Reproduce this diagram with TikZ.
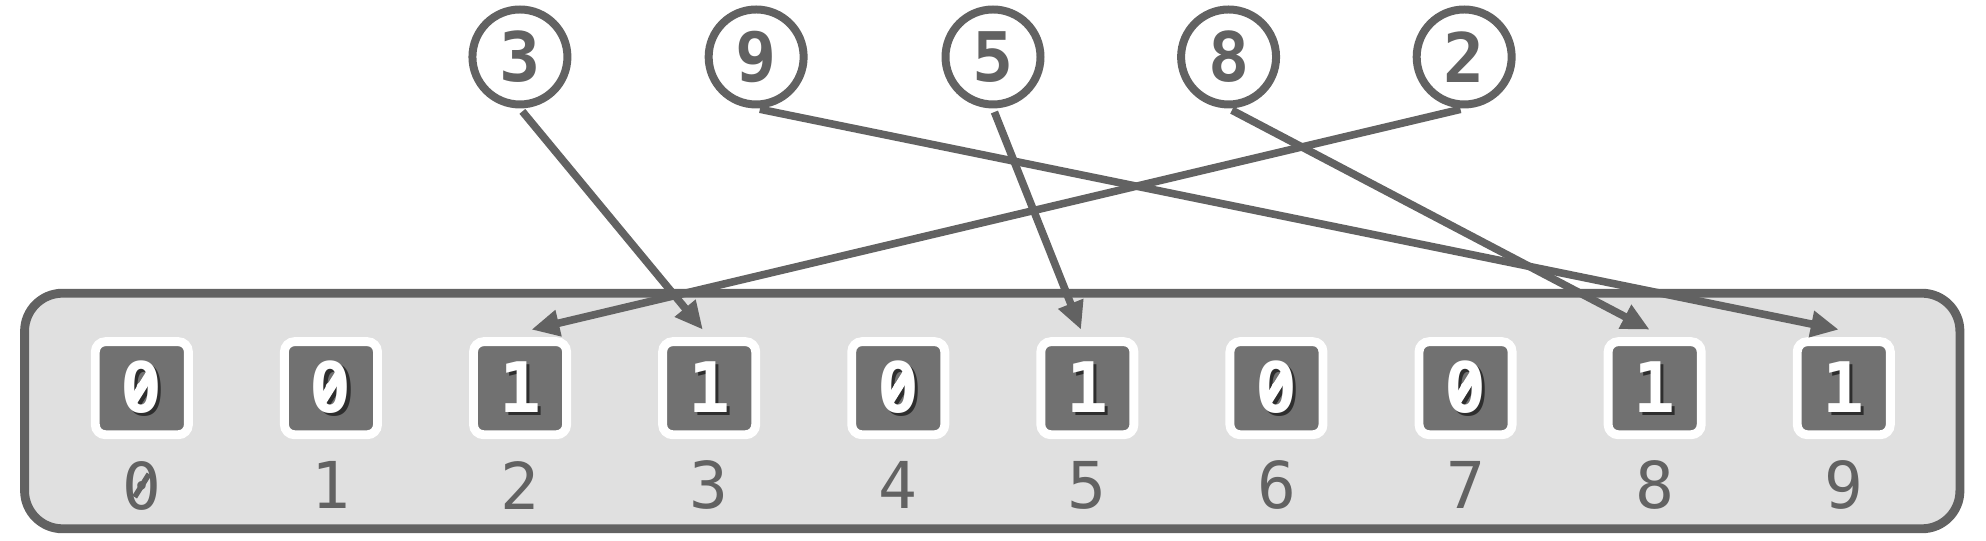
\documentclass[tikz,border=0pt]{standalone}
\usepackage{fontspec}
\setmonofont{DejaVu Sans Mono}
\usetikzlibrary{arrows.meta}
\definecolor{linegray}{HTML}{626262}
\definecolor{cellgray}{HTML}{717171}
\definecolor{boxgray}{HTML}{E0E0E0}
\definecolor{shadowgray}{HTML}{2E2E2E}
% slashed zero, #1 is the thickness and #2 the length of the slash
\newcommand{\zslash}[2]{{\ooalign{0\cr\hidewidth\raisebox{0.3645em}{\makebox[0pt]{%
  \rotatebox[origin=c]{58}{\rule[-0.5\dimexpr#1\relax]{#2}{#1}}}}\hidewidth\cr}}}
\newcommand{\zerob}{\zslash{0.13em}{0.5em}}
\newcommand{\zeroi}{\zslash{0.085em}{0.42em}}
\newcommand{\bitdigit}[1]{\rlap{\kern2.4pt\raisebox{-2.4pt}{\textcolor{shadowgray}{#1}}}\textcolor{white}{#1}}

\begin{document}
\begin{tikzpicture}[x=1pt,y=1pt,
    arraybox/.style={draw=linegray, fill=boxgray, line width=7pt, rounded corners=30pt,
      minimum width=1528pt, minimum height=186pt},
    bitcell/.style={draw=white, fill=cellgray, line width=7pt, rounded corners=8pt,
      minimum size=73.5pt, inner sep=0pt, font=\fontsize{55}{60}\selectfont\ttfamily\bfseries},
    idx/.style={text=linegray, inner sep=0pt, font=\fontsize{51}{60}\selectfont\ttfamily},
    keyball/.style={circle, draw=linegray, fill=white, line width=6.3pt, minimum size=75pt,
      inner sep=0pt, text=linegray, font=\fontsize{54}{60}\selectfont\ttfamily\bfseries},
    link/.style={draw=linegray, line width=6pt, -{Triangle[length=22pt,width=20pt]},
      shorten <=3pt}]
    \useasboundingbox (0,0) rectangle (1568,427);
    % define variables.
    \def\celly{120.5}
    \def\idxy{44}
    \def\keyy{382}
    % draw the array
    \node[arraybox] (arr) at (783.4,102.5) {};
    % draw the cells
    \node[bitcell] (b0) at (112,\celly) {\bitdigit{\zerob}};
    \node[bitcell] (b1) at (261.3,\celly) {\bitdigit{\zerob}};
    \node[bitcell] (b2) at (410.6,\celly) {\bitdigit{1}};
    \node[bitcell] (b3) at (559.9,\celly) {\bitdigit{1}};
    \node[bitcell] (b4) at (709.2,\celly) {\bitdigit{\zerob}};
    \node[bitcell] (b5) at (858.5,\celly) {\bitdigit{1}};
    \node[bitcell] (b6) at (1007.8,\celly) {\bitdigit{\zerob}};
    \node[bitcell] (b7) at (1157.1,\celly) {\bitdigit{\zerob}};
    \node[bitcell] (b8) at (1306.4,\celly) {\bitdigit{1}};
    \node[bitcell] (b9) at (1455.7,\celly) {\bitdigit{1}};
    % draw the indices
    \node[idx] (i0) at (112,\idxy) {\zeroi};
    \node[idx] (i1) at (261.3,\idxy) {1};
    \node[idx] (i2) at (410.6,\idxy) {2};
    \node[idx] (i3) at (559.9,\idxy) {3};
    \node[idx] (i4) at (709.2,\idxy) {4};
    \node[idx] (i5) at (858.5,\idxy) {5};
    \node[idx] (i6) at (1007.8,\idxy) {6};
    \node[idx] (i7) at (1157.1,\idxy) {7};
    \node[idx] (i8) at (1306.4,\idxy) {8};
    \node[idx] (i9) at (1455.7,\idxy) {9};
    % draw the keys
    \node[keyball] (k3) at (410.5,\keyy) {3};
    \node[keyball] (k9) at (597,\keyy) {9};
    \node[keyball] (k5) at (784,\keyy) {5};
    \node[keyball] (k8) at (970,\keyy) {8};
    \node[keyball] (k2) at (1156,\keyy) {2};
    % draw the edges
    \draw[link] (k3.south) -- ([shift={(-5pt,6pt)}]b3.north);
    \draw[link] (k9.south) -- ([shift={(-4pt,6pt)}]b9.north);
    \draw[link] (k5.south) -- ([shift={(-5pt,6pt)}]b5.north);
    \draw[link] (k8.south) -- ([shift={(-4pt,6pt)}]b8.north);
    \draw[link] (k2.south) -- ([shift={(9pt,6pt)}]b2.north);
\end{tikzpicture}
\end{document}
